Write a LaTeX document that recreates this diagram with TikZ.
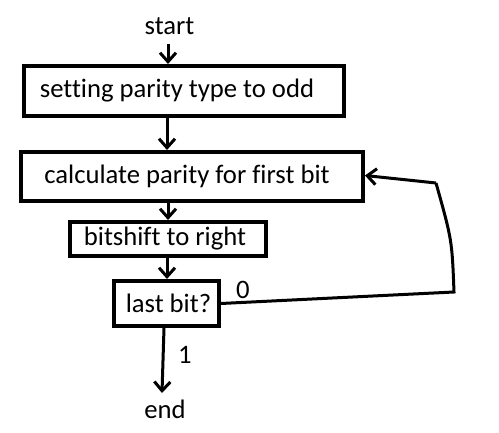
\documentclass[tikz,border=0pt]{standalone}
\usepackage{fontspec}
\setmainfont[Ligatures={NoCommon}]{Carlito}
\usetikzlibrary{arrows.meta}
\begin{document}
\begin{tikzpicture}[x=1pt,y=-1pt,
  every node/.style={font=\fontsize{26.67}{32}\selectfont, inner sep=0pt},
  boxnode/.style={draw, line width=4pt, anchor=center},
  arr/.style={line width=3pt, -{Straight Barb[length=9pt,width=16pt,line width=3pt]}},
  conn/.style={line width=3pt}]
\useasboundingbox (0,0) rectangle (499,433);
\node[anchor=base] (start) at (169.5,35) {start};
\node[boxnode, minimum width=320pt, minimum height=50pt] (b1) at (184,91) {};
\node (t1) at (177,91) {setting parity type to odd};
\node[boxnode, minimum width=342pt, minimum height=49pt] (b2) at (192,176.5) {};
\node (t2) at (187,176.5) {calculate parity for first bit};
\node[boxnode, minimum width=196pt, minimum height=34pt] (b3) at (168,239) {};
\node (t3) at (165,239) {bitshift to right};
\node[boxnode, minimum width=105pt, minimum height=45pt] (b4) at (166.5,303.5) {};
\node (t4) at (168.5,303.5) {last bit?};
\node[anchor=base] (end) at (165,418) {end};
\node[anchor=base] (l0) at (243,299) {0};
\node[anchor=base] (l1) at (185,364) {1};
\coordinate (c0) at (168,0);
\coordinate (c1) at (167,0);
\coordinate (p1) at (454,292);
\coordinate (p2) at (436,183);
\draw[arr] (c0 |- 0,44) -- (c0 |- b1.north);
\draw[arr] (c1 |- b1.south) -- (c1 |- b2.north);
\draw[arr] (c0 |- b2.south) -- (c0 |- b3.north);
\draw[arr] (c1 |- b3.south) -- (c1 |- b4.north);
\draw[arr] (164,328) -- (162,393);
\draw[conn] (b4.east) -- (p1) .. controls (452,240) .. (p2);
\draw[arr] (p2) -- ([yshift=1pt]b2.east);
\end{tikzpicture}
\end{document}
